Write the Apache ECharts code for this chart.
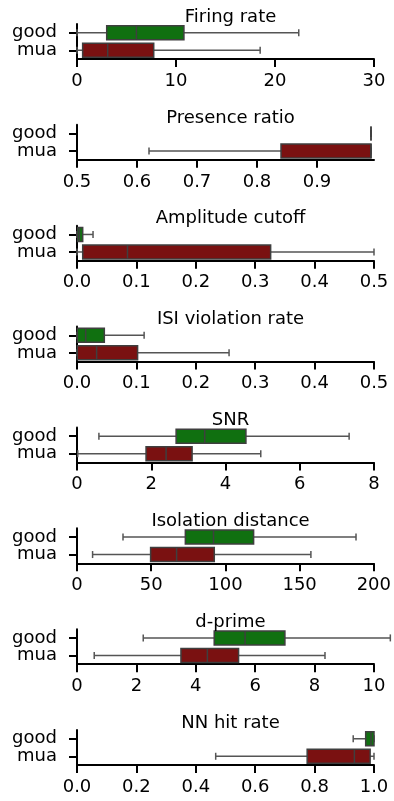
<!DOCTYPE html>
<html>
<head>
<meta charset="utf-8">
<script src="https://cdn.jsdelivr.net/npm/echarts@6/dist/echarts.min.js"></script>
<style>
  html, body { margin: 0; padding: 0; background: #fff; }
  #chart { width: 394px; height: 801px; }
</style>
</head>
<body>
<div id="chart"></div>
<script>
// categories, bottom to top (good is drawn on top)
const categories = ["mua", "good"];
const titles = ["Firing rate", "Presence ratio", "Amplitude cutoff", "ISI violation rate",
  "SNR", "Isolation distance", "d-prime", "NN hit rate"];

// [whisker low, Q1, median, Q3, whisker high]
const goodStats = [
  [0, 3.0, 6.0, 10.8, 22.4],
  [0.99, 0.99, 0.99, 0.99, 0.99],
  [0, 0.001, 0.004, 0.0096, 0.027],
  [0, 0.0006, 0.0146, 0.046, 0.113],
  [0.59, 2.67, 3.44, 4.55, 7.33],
  [31, 73, 92, 119, 188],
  [2.23, 4.62, 5.66, 7.0, 10.55],
  [0.93, 0.972, 0.99, 1.0, 1.0]
];
const muaStats = [
  [0, 0.57, 3.1, 7.75, 18.5],
  [0.62, 0.84, 0.99, 0.99, 0.99],
  [0, 0.0096, 0.085, 0.326, 0.5],
  [0, 0.0005, 0.033, 0.102, 0.256],
  [0.02, 1.86, 2.4, 3.1, 4.95],
  [10.5, 49.6, 67.1, 92.5, 157.6],
  [0.58, 3.5, 4.39, 5.44, 8.35],
  [0.467, 0.775, 0.934, 0.987, 1.0]
];

const xMin = [0, 0.5, 0, 0, 0, 0, 0, 0];
const xMax = [30, 0.995, 0.5, 0.5, 8, 200, 10, 1];
const tickValues = [
  [0, 10, 20, 30],
  [0.5, 0.6, 0.7, 0.8, 0.9],
  [0, 0.1, 0.2, 0.3, 0.4, 0.5],
  [0, 0.1, 0.2, 0.3, 0.4, 0.5],
  [0, 2, 4, 6, 8],
  [0, 50, 100, 150, 200],
  [0, 2, 4, 6, 8, 10],
  [0, 0.2, 0.4, 0.6, 0.8, 1.0]
];
const tickDecimals = [0, 1, 1, 1, 0, 0, 0, 1];

const boxColors = ["#7a1111", "#107010"]; // mua, good
const lineColor = "#3f3f3f";
const whiskerColor = "#555555";
const font = "DejaVu Sans";

const chart = echarts.init(document.getElementById("chart"), null, { renderer: "canvas" });

const plotLeft = 77;
const plotRight = 374;
const firstAxisY = 59;
const step = 100.86;
const plotH = 35;

// matplotlib-style horizontal box: half-height caps, 80% box
function renderBox(params, api) {
  const cat = api.value(0);
  const lo = api.coord([api.value(1), cat]);
  const q1 = api.coord([api.value(2), cat]);
  const md = api.coord([api.value(3), cat]);
  const q3 = api.coord([api.value(4), cat]);
  const hi = api.coord([api.value(5), cat]);
  const band = api.size([0, 1])[1];
  const bh = band * 0.8;
  const ch = bh / 2;
  const y = lo[1];
  const wStyle = { stroke: whiskerColor, lineWidth: 1.5, fill: null };
  const bStyle = { stroke: lineColor, lineWidth: 1.5, fill: null };
  return {
    type: "group",
    children: [
      { type: "line", shape: { x1: lo[0], y1: y, x2: q1[0], y2: y }, style: wStyle },
      { type: "line", shape: { x1: q3[0], y1: y, x2: hi[0], y2: y }, style: wStyle },
      { type: "line", shape: { x1: lo[0], y1: y - ch / 2, x2: lo[0], y2: y + ch / 2 }, style: wStyle },
      { type: "line", shape: { x1: hi[0], y1: y - ch / 2, x2: hi[0], y2: y + ch / 2 }, style: wStyle },
      {
        type: "rect",
        shape: { x: q1[0], y: y - bh / 2, width: q3[0] - q1[0], height: bh },
        style: { fill: boxColors[cat], stroke: lineColor, lineWidth: 1.5 }
      },
      { type: "line", shape: { x1: md[0], y1: y - bh / 2, x2: md[0], y2: y + bh / 2 }, style: bStyle }
    ]
  };
}

const grids = [], xAxes = [], yAxes = [], series = [], titleList = [];

titles.forEach((t, i) => {
  const axisY = firstAxisY + i * step;
  grids.push({ left: plotLeft, width: plotRight - plotLeft, top: axisY - plotH, height: plotH });
  titleList.push({
    text: t,
    left: (plotLeft + plotRight) / 2,
    top: axisY - 56,
    textAlign: "center",
    textStyle: { fontFamily: font, fontSize: 18, fontWeight: "normal", color: "#000" }
  });
  const dec = tickDecimals[i];
  xAxes.push({
    type: "value",
    gridIndex: i,
    min: xMin[i],
    max: xMax[i],
    axisLine: { show: true, onZero: false, lineStyle: { color: "#000", width: 2 } },
    axisTick: { show: true, length: 8, lineStyle: { color: "#000", width: 2 }, customValues: tickValues[i] },
    axisLabel: {
      customValues: tickValues[i],
      margin: 13,
      fontFamily: font, fontSize: 18, color: "#000",
      formatter: v => Number(v).toFixed(dec)
    },
    splitLine: { show: false }
  });
  yAxes.push({
    type: "category",
    gridIndex: i,
    data: categories,
    axisLine: { show: true, lineStyle: { color: "#000", width: 2 } },
    axisTick: { show: true, alignWithLabel: true, interval: 0, length: 8, lineStyle: { color: "#000", width: 2 } },
    axisLabel: { interval: 0, margin: 20, fontFamily: font, fontSize: 18, color: "#000" },
    splitLine: { show: false }
  });
  series.push({
    type: "custom",
    xAxisIndex: i,
    yAxisIndex: i,
    renderItem: renderBox,
    encode: { x: [1, 2, 3, 4, 5], y: 0 },
    clip: false,
    silent: true,
    data: [
      [0].concat(muaStats[i]),
      [1].concat(goodStats[i])
    ]
  });
});

chart.setOption({
  animation: false,
  backgroundColor: "#fff",
  title: titleList,
  grid: grids,
  xAxis: xAxes,
  yAxis: yAxes,
  series: series
});

window.addEventListener("resize", () => {
  chart.resize();
});
</script>
</body>
</html>
